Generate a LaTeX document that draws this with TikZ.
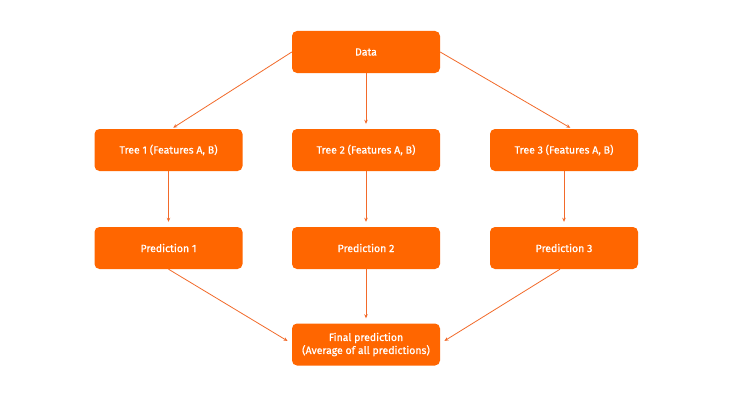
\documentclass[tikz,border=0pt]{standalone}
\usepackage{fontspec}
\setmainfont{Fira Sans}
\newfontfamily\boxfont{Fira Sans}[FakeBold=0.7]
\usepackage{xcolor}
\definecolor{boxorange}{HTML}{FF6600}
\definecolor{linkorange}{HTML}{F26A2A}
\usetikzlibrary{arrows.meta}

\begin{document}
\begin{tikzpicture}[
  x=1pt, y=1pt,
  box/.style={fill=boxorange, rounded corners=5pt, minimum width=148pt,
    minimum height=42pt, inner sep=0pt, text=white, align=center,
    font=\boxfont\fontsize{10.5}{13}\selectfont},
  link/.style={draw=linkorange, line width=0.8pt,
    -{Stealth[length=4pt,width=3.5pt]}, shorten >=5pt},
]
\useasboundingbox [fill=white] (0,0) rectangle (746,400);

% top
\node [box] (data) at (366,348) {Data};

% trees
\node [box] (tree1) at (168.5,250) {Tree 1 (Features A, B)};
\node [box] (tree2) at (366,250) {Tree 2 (Features A, B)};
\node [box] (tree3) at (564,250) {Tree 3 (Features A, B)};

% predictions
\node [box] (pred1) at (168.5,152) {Prediction 1};
\node [box] (pred2) at (366,152) {Prediction 2};
\node [box] (pred3) at (564,152) {Prediction 3};

% final
\node [box] (final) at (366,55.5) {Final prediction\\(Average of all predictions)};

\draw [link, shorten >=2pt] (data.west) -- ([xshift=3pt]tree1.north);
\draw [link] (data.south) -- (tree2.north);
\draw [link, shorten >=2pt] (data.east) -- ([xshift=8pt]tree3.north);

\draw [link] (tree1.south) -- (pred1.north);
\draw [link] (tree2.south) -- (pred2.north);
\draw [link] (tree3.south) -- (pred3.north);

\draw [link] (pred1.south) -- ([yshift=1pt]final.west);
\draw [link] (pred2.south) -- (final.north);
\draw [link] ([xshift=-4pt]pred3.south) -- ([yshift=1pt]final.east);
\end{tikzpicture}
\end{document}
